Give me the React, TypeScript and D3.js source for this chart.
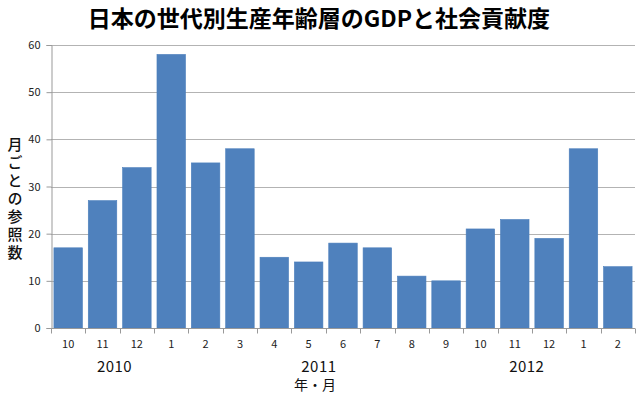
import React, { useEffect, useRef } from 'react';
import * as d3 from 'd3';

const width = 640;
const height = 399;

// month labels and counts
const months = ['10', '11', '12', '1', '2', '3', '4', '5', '6', '7', '8', '9', '10', '11', '12', '1', '2'];
const counts = [17, 27, 34, 58, 35, 38, 15, 14, 18, 17, 11, 10, 21, 23, 19, 38, 13];
const years = ['2010', '2011', '2012'];
// where each year label sits, in category units
const yearPos = [1.85, 7.8, 13.85];
const yTicks = [0, 10, 20, 30, 40, 50, 60];

const title = '日本の世代別生産年齢層のGDPと社会貢献度';
const yLabel = '月ごとの参照数';
const xLabel = '年・月';

const margin = { top: 45, right: 5, bottom: 70, left: 51 };
const font = "'Noto Sans CJK JP', 'Noto Sans', sans-serif";

const App = () => {
    const ref = useRef<SVGSVGElement>(null);

    useEffect(() => {
        if (!ref.current) return;
        const svg = d3.select(ref.current);
        svg.selectAll('*').remove();

        const x = d3.scaleBand<number>()
            .domain(d3.range(counts.length))
            .range([margin.left, width - margin.right])
            .paddingInner(0.17)
            .paddingOuter(0.085);
        const step = (width - margin.right - margin.left) / counts.length;

        const y = d3.scaleLinear()
            .domain([0, 60])
            .range([height - margin.bottom - 1, margin.top]);

        svg.append('rect').attr('width', width).attr('height', height).attr('fill', '#fff');

        // gridlines
        svg.append('g')
            .selectAll('line')
            .data(yTicks.slice(1))
            .enter()
            .append('line')
            .attr('x1', margin.left)
            .attr('x2', width - margin.right)
            .attr('y1', d => Math.round(y(d)) + 0.5)
            .attr('y2', d => Math.round(y(d)) + 0.5)
            .attr('stroke', '#b3b3b3')
            .attr('stroke-width', 1);

        // bars
        svg.append('g')
            .selectAll('rect')
            .data(counts)
            .enter()
            .append('rect')
            .attr('x', (d, i) => x(i)!)
            .attr('y', d => y(d))
            .attr('width', x.bandwidth())
            .attr('height', d => y(0) - y(d))
            .attr('fill', '#4f81bd')
            .attr('stroke', '#4a7ebb')
            .attr('stroke-width', 0.6);

        // y axis
        const yAxis = svg.append('g')
            .attr('transform', `translate(${margin.left + 0.5},0)`)
            .call(d3.axisLeft(y).tickValues(yTicks).tickSize(5).tickPadding(6));
        yAxis.select('.domain').attr('stroke', '#999');
        yAxis.selectAll('.tick line').attr('stroke', '#999');
        yAxis.selectAll('.tick text')
            .attr('fill', '#222')
            .style('font-size', '11px')
            .style('font-family', font);

        // x axis
        const base = Math.round(y(0)) + 0.5;
        svg.append('line')
            .attr('x1', margin.left)
            .attr('x2', width - margin.right)
            .attr('y1', base)
            .attr('y2', base)
            .attr('stroke', '#999');
        svg.append('g')
            .selectAll('line')
            .data(d3.range(counts.length + 1))
            .enter()
            .append('line')
            .attr('x1', i => Math.round(margin.left + i * step) + 0.5)
            .attr('x2', i => Math.round(margin.left + i * step) + 0.5)
            .attr('y1', base)
            .attr('y2', base + 5)
            .attr('stroke', '#999');

        svg.append('g')
            .selectAll('text')
            .data(months)
            .enter()
            .append('text')
            .attr('x', (d, i) => x(i)! + x.bandwidth() / 2)
            .attr('y', base + 19)
            .attr('text-anchor', 'middle')
            .attr('fill', '#222')
            .style('font-size', '11px')
            .style('font-family', font)
            .text(d => d);

        svg.append('g')
            .selectAll('text')
            .data(years)
            .enter()
            .append('text')
            .attr('x', (d, i) => margin.left + yearPos[i] * step)
            .attr('y', base + 43)
            .attr('text-anchor', 'middle')
            .attr('fill', '#111')
            .style('font-size', '15px')
            .style('letter-spacing', '0.5px')
            .style('font-family', font)
            .text(d => d);

        svg.append('text')
            .attr('x', 315)
            .attr('y', base + 61)
            .attr('text-anchor', 'middle')
            .attr('fill', '#111')
            .style('font-size', '14px')
            .style('font-family', font)
            .text(xLabel);

        // vertical y label
        svg.append('text')
            .attr('x', 15)
            .attr('y', 137)
            .attr('fill', '#111')
            .style('writing-mode', 'vertical-rl')
            .style('font-size', '15px')
            .style('letter-spacing', '3px')
            .style('font-weight', 500)
            .style('font-family', font)
            .text(yLabel);

        // title
        svg.append('text')
            .attr('x', 319)
            .attr('y', 27)
            .attr('text-anchor', 'middle')
            .attr('fill', '#000')
            .style('font-size', '23px')
            .style('font-weight', 'bold')
            .style('font-family', font)
            .text(title);
    }, []);

    return (
        <svg width={width} height={height} ref={ref}
            style={{ position: 'absolute', left: 0, top: 0, display: 'block' }}></svg>
    );
};

export default App;
